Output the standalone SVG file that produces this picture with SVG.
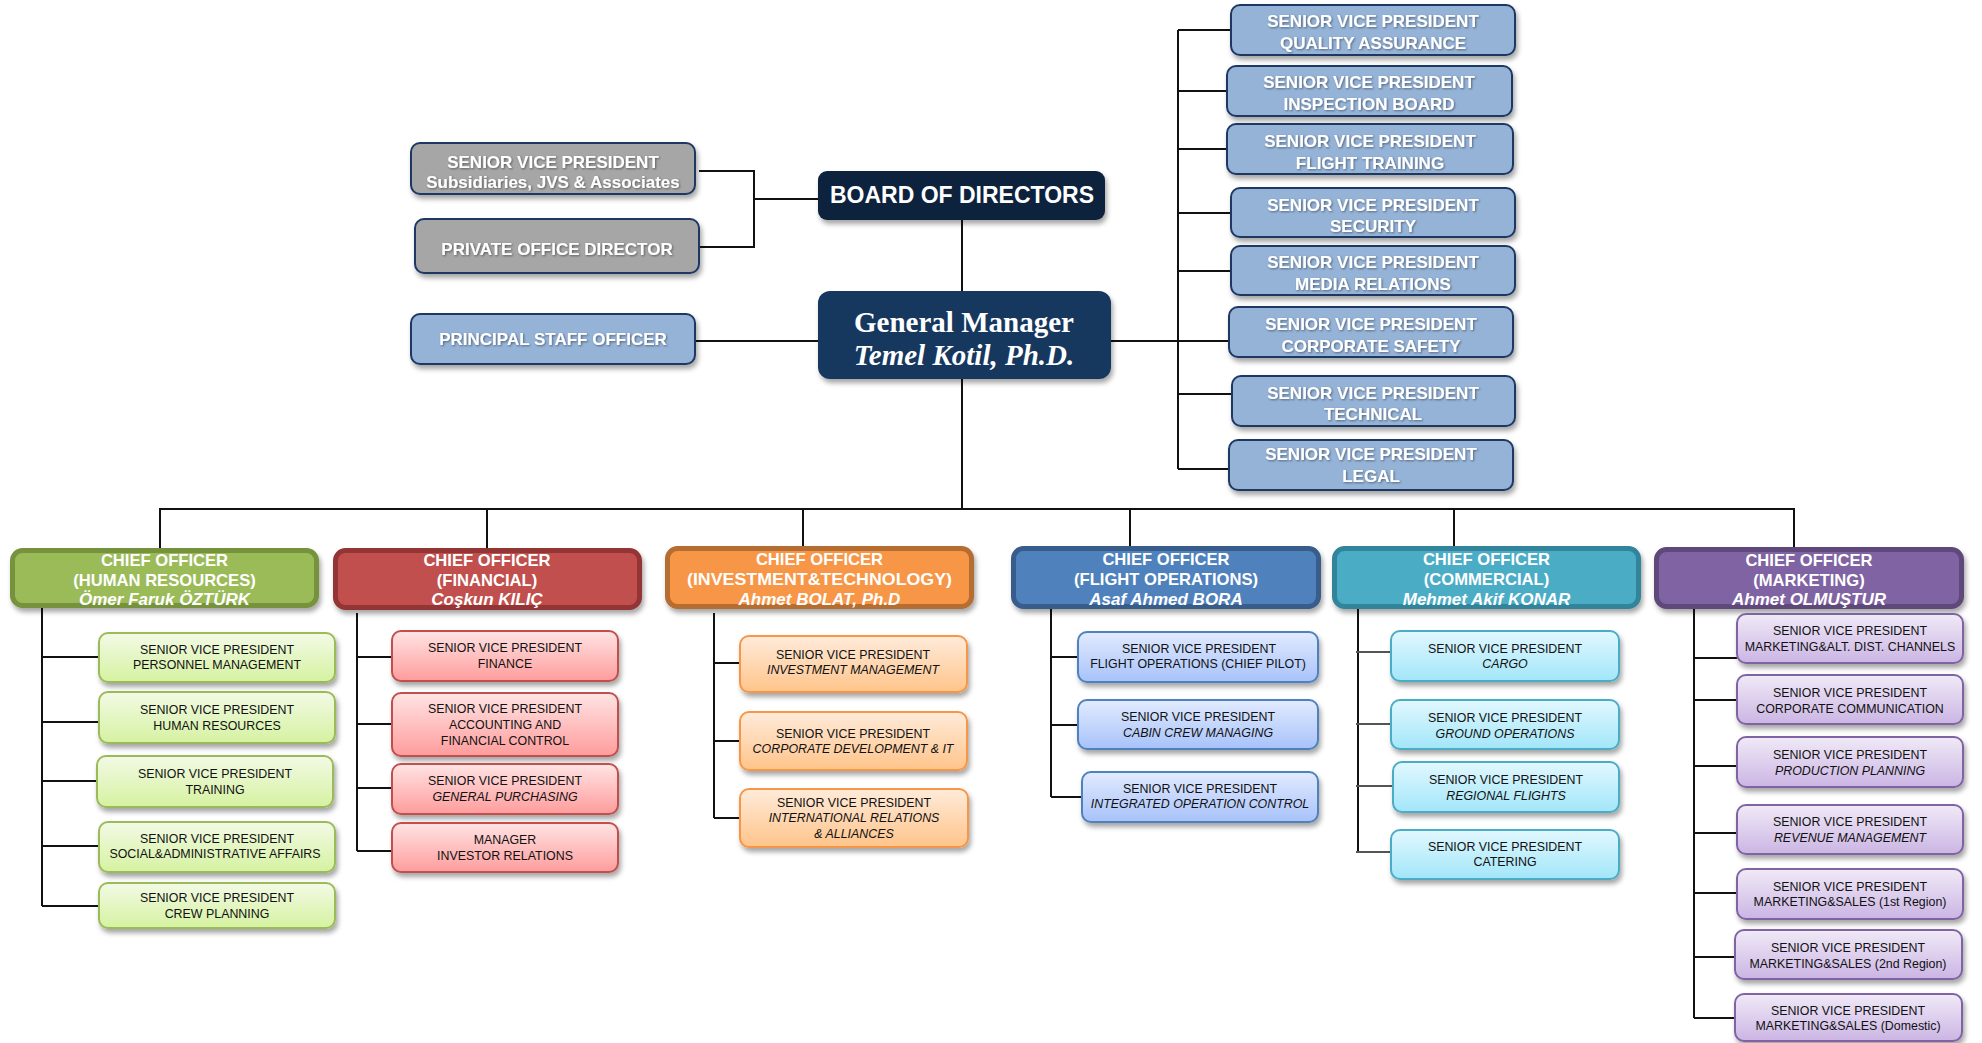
<svg xmlns="http://www.w3.org/2000/svg" width="1982" height="1043" viewBox="0 0 1982 1043">
<defs>
<filter id="sh" x="-10%" y="-20%" width="130%" height="170%"><feDropShadow dx="2" dy="4" stdDeviation="2.5" flood-color="#000" flood-opacity="0.35"/></filter>
<filter id="ts" x="-5%" y="-30%" width="110%" height="160%"><feDropShadow dx="1" dy="1" stdDeviation="0.8" flood-color="#000" flood-opacity="0.45"/></filter>
<linearGradient id="gG" x1="0" y1="0" x2="0" y2="1"><stop offset="0" stop-color="#F3FAE6"/><stop offset="1" stop-color="#D5F2A0"/></linearGradient>
<linearGradient id="gR" x1="0" y1="0" x2="0" y2="1"><stop offset="0" stop-color="#FFE4E4"/><stop offset="1" stop-color="#FF9C9C"/></linearGradient>
<linearGradient id="gO" x1="0" y1="0" x2="0" y2="1"><stop offset="0" stop-color="#FFEBDA"/><stop offset="1" stop-color="#FFC48A"/></linearGradient>
<linearGradient id="gB" x1="0" y1="0" x2="0" y2="1"><stop offset="0" stop-color="#E2EBFF"/><stop offset="1" stop-color="#A7C2FA"/></linearGradient>
<linearGradient id="gC" x1="0" y1="0" x2="0" y2="1"><stop offset="0" stop-color="#E2F8FF"/><stop offset="1" stop-color="#A2E6F9"/></linearGradient>
<linearGradient id="gP" x1="0" y1="0" x2="0" y2="1"><stop offset="0" stop-color="#F0EAF7"/><stop offset="1" stop-color="#CBB5E4"/></linearGradient>
</defs>
<style>
.c{stroke:#111;stroke-width:2;fill:none}
.cg{stroke:#555;stroke-width:2;fill:none}
.top{fill:#95B3D7;stroke:#1F3864;stroke-width:2;filter:url(#sh)}
.gray{fill:#A6A6A6;stroke:#1F3864;stroke-width:2;filter:url(#sh)}
.tw{font-family:"Liberation Sans",Arial,sans-serif;font-weight:bold;font-size:17px;fill:#fff;text-anchor:middle;filter:url(#ts)}
.ch{font-family:"Liberation Sans",Arial,sans-serif;font-weight:bold;font-size:16.6px;fill:#fff;text-anchor:middle}
.nm{font-style:italic;font-size:17px}
.s{font-family:"Liberation Sans",Arial,sans-serif;font-size:12.4px;fill:#111;text-anchor:middle}
.i{font-style:italic}
.sg{fill:url(#gG);stroke:#9BBB59;stroke-width:2;filter:url(#sh)}
.sr{fill:url(#gR);stroke:#C0504D;stroke-width:2;filter:url(#sh)}
.so{fill:url(#gO);stroke:#F79646;stroke-width:2;filter:url(#sh)}
.sb{fill:url(#gB);stroke:#4F81BD;stroke-width:2;filter:url(#sh)}
.sc{fill:url(#gC);stroke:#4BACC6;stroke-width:2;filter:url(#sh)}
.sp{fill:url(#gP);stroke:#8064A2;stroke-width:2;filter:url(#sh)}
</style>
<rect width="1982" height="1043" fill="#fff"/>

<g id="connectors">
<path class="c" d="M699 171H754V247H699M754 199H818"/>
<path class="c" d="M695 341H818"/>
<path class="c" d="M962 220V291M962 379V509"/>
<path class="c" d="M1111 341H1229M1178 30V469M1178 30H1231M1178 91H1227M1178 149H1227M1178 213H1231M1178 271H1231M1178 394H1232M1178 469H1229"/>
<path class="c" d="M160 548V509H1794V547M487 509V548M803 509V546M1130 509V546M1454 509V546"/>
<path class="c" d="M42 608V906M42 657H99M42 722H99M42 781H97M42 846H99M42 906H99"/>
<path class="c" d="M357 613V851M357 657H392M357 724H392M357 788H392M357 851H392"/>
<path class="c" d="M714 613V818M714 663H740M714 741H740M714 818H740"/>
<path class="c" d="M1051 608V797M1051 657H1078M1051 725H1078M1051 797H1082"/>
<path class="c" d="M1358 609V852"/>
<path class="cg" d="M1356 652H1391M1356 724H1391M1356 786H1393M1356 852H1391"/>
<path class="c" d="M1694 608V1018M1694 658H1737M1694 700H1737M1694 766H1737M1694 833H1737M1694 893H1737M1694 957H1735M1694 1018H1735"/>
</g>

<g id="n-subsidiaries"><rect class="gray" x="411" y="143" width="284" height="51" rx="9"/><text class="tw" x="553" y="168">SENIOR VICE PRESIDENT</text><text class="tw" x="553" y="188">Subsidiaries, JVS &amp; Associates</text></g>
<g id="n-private"><rect class="gray" x="415" y="219" width="284" height="54" rx="9"/><text class="tw" x="557" y="255">PRIVATE OFFICE DIRECTOR</text></g>
<g id="n-principal"><rect class="top" x="411" y="314" width="284" height="50" rx="9"/><text class="tw" x="553" y="345">PRINCIPAL STAFF OFFICER</text></g>
<g id="n-bod"><rect x="818" y="171" width="287" height="49" rx="9" fill="#10243E" filter="url(#sh)"/><text x="962" y="203" font-family="Liberation Sans,Arial,sans-serif" font-weight="bold" font-size="23" fill="#fff" text-anchor="middle">BOARD OF DIRECTORS</text></g>
<g id="n-gm"><rect x="818" y="291" width="293" height="88" rx="12" fill="#17375E" filter="url(#sh)"/><text x="964" y="332" font-family="Liberation Serif,Times New Roman,serif" font-weight="bold" font-size="29" fill="#fff" text-anchor="middle">General Manager</text><text x="964" y="365" font-family="Liberation Serif,Times New Roman,serif" font-weight="bold" font-style="italic" font-size="29" fill="#fff" text-anchor="middle">Temel Kotil, Ph.D.</text></g>

<g id="n-qa"><rect class="top" x="1231" y="5" width="284" height="50" rx="9"/><text class="tw" x="1373" y="27">SENIOR VICE PRESIDENT</text><text class="tw" x="1373" y="49">QUALITY ASSURANCE</text></g>
<g id="n-inspection"><rect class="top" x="1227" y="66" width="285" height="50" rx="9"/><text class="tw" x="1369" y="88">SENIOR VICE PRESIDENT</text><text class="tw" x="1369" y="110">INSPECTION BOARD</text></g>
<g id="n-flighttraining"><rect class="top" x="1227" y="124" width="286" height="50" rx="9"/><text class="tw" x="1370" y="147">SENIOR VICE PRESIDENT</text><text class="tw" x="1370" y="169">FLIGHT TRAINING</text></g>
<g id="n-security"><rect class="top" x="1231" y="188" width="284" height="49" rx="9"/><text class="tw" x="1373" y="211">SENIOR VICE PRESIDENT</text><text class="tw" x="1373" y="232">SECURITY</text></g>
<g id="n-media"><rect class="top" x="1231" y="246" width="284" height="49" rx="9"/><text class="tw" x="1373" y="268">SENIOR VICE PRESIDENT</text><text class="tw" x="1373" y="290">MEDIA RELATIONS</text></g>
<g id="n-safety"><rect class="top" x="1229" y="307" width="284" height="50" rx="9"/><text class="tw" x="1371" y="330">SENIOR VICE PRESIDENT</text><text class="tw" x="1371" y="352">CORPORATE SAFETY</text></g>
<g id="n-technical"><rect class="top" x="1232" y="376" width="283" height="50" rx="9"/><text class="tw" x="1373" y="399">SENIOR VICE PRESIDENT</text><text class="tw" x="1373" y="420">TECHNICAL</text></g>
<g id="n-legal"><rect class="top" x="1229" y="440" width="284" height="50" rx="9"/><text class="tw" x="1371" y="460">SENIOR VICE PRESIDENT</text><text class="tw" x="1371" y="482">LEGAL</text></g>

<g id="n-co-hr"><rect x="12.5" y="550.5" width="304" height="55" rx="10" fill="#9BBB59" stroke="#76923C" stroke-width="5" filter="url(#sh)"/><text class="ch" x="164.5" y="566">CHIEF OFFICER</text><text class="ch" x="164.5" y="586">(HUMAN RESOURCES)</text><text class="ch nm" x="164.5" y="605">Ömer Faruk ÖZTÜRK</text></g>
<g id="n-co-fin"><rect x="335.5" y="550.5" width="304" height="57" rx="10" fill="#C0504D" stroke="#943634" stroke-width="5" filter="url(#sh)"/><text class="ch" x="487" y="566">CHIEF OFFICER</text><text class="ch" x="487" y="586">(FINANCIAL)</text><text class="ch nm" x="487" y="605">Coşkun KILIÇ</text></g>
<g id="n-co-inv"><rect x="667.5" y="548.5" width="304" height="58" rx="10" fill="#F79646" stroke="#B66D31" stroke-width="5" filter="url(#sh)"/><text class="ch" x="819.5" y="565">CHIEF OFFICER</text><text class="ch" x="819.5" y="585" textLength="265" lengthAdjust="spacingAndGlyphs">(INVESTMENT&amp;TECHNOLOGY)</text><text class="ch nm" x="819.5" y="605">Ahmet BOLAT, Ph.D</text></g>
<g id="n-co-fo"><rect x="1013.5" y="548.5" width="305" height="58" rx="10" fill="#4F81BD" stroke="#385D8A" stroke-width="5" filter="url(#sh)"/><text class="ch" x="1166" y="565">CHIEF OFFICER</text><text class="ch" x="1166" y="585">(FLIGHT OPERATIONS)</text><text class="ch nm" x="1166" y="605">Asaf Ahmed BORA</text></g>
<g id="n-co-com"><rect x="1334.5" y="548.5" width="304" height="58" rx="10" fill="#4BACC6" stroke="#31849B" stroke-width="5" filter="url(#sh)"/><text class="ch" x="1486.5" y="565">CHIEF OFFICER</text><text class="ch" x="1486.5" y="585">(COMMERCIAL)</text><text class="ch nm" x="1486.5" y="605">Mehmet Akif KONAR</text></g>
<g id="n-co-mkt"><rect x="1656.5" y="549.5" width="305" height="57" rx="10" fill="#8064A2" stroke="#5F497A" stroke-width="5" filter="url(#sh)"/><text class="ch" x="1809" y="566">CHIEF OFFICER</text><text class="ch" x="1809" y="586">(MARKETING)</text><text class="ch nm" x="1809" y="605">Ahmet OLMUŞTUR</text></g>

<g id="n-hr-personnel"><rect class="sg" x="99" y="633" width="236" height="49" rx="9"/><text class="s" x="217" y="654">SENIOR VICE PRESIDENT</text><text class="s" x="217" y="669">PERSONNEL  MANAGEMENT</text></g>
<g id="n-hr-hr"><rect class="sg" x="99" y="692" width="236" height="51" rx="9"/><text class="s" x="217" y="714">SENIOR VICE PRESIDENT</text><text class="s" x="217" y="730">HUMAN RESOURCES</text></g>
<g id="n-hr-training"><rect class="sg" x="97" y="756" width="236" height="51" rx="9"/><text class="s" x="215" y="778">SENIOR VICE PRESIDENT</text><text class="s" x="215" y="794">TRAINING</text></g>
<g id="n-hr-social"><rect class="sg" x="99" y="822" width="236" height="50" rx="9"/><text class="s" x="217" y="843">SENIOR VICE PRESIDENT</text><text class="s" x="215" y="858">SOCIAL&amp;ADMINISTRATIVE AFFAIRS</text></g>
<g id="n-hr-crew"><rect class="sg" x="99" y="883" width="236" height="45" rx="9"/><text class="s" x="217" y="902">SENIOR VICE PRESIDENT</text><text class="s" x="217" y="918">CREW PLANNING</text></g>

<g id="n-fin-finance"><rect class="sr" x="392" y="631" width="226" height="50" rx="9"/><text class="s" x="505" y="652">SENIOR VICE PRESIDENT</text><text class="s" x="505" y="668">FINANCE</text></g>
<g id="n-fin-accounting"><rect class="sr" x="392" y="693" width="226" height="63" rx="9"/><text class="s" x="505" y="713">SENIOR VICE PRESIDENT</text><text class="s" x="505" y="729">ACCOUNTING  AND</text><text class="s" x="505" y="745">FINANCIAL CONTROL</text></g>
<g id="n-fin-purchasing"><rect class="sr" x="392" y="764" width="226" height="50" rx="9"/><text class="s" x="505" y="785">SENIOR VICE PRESIDENT</text><text class="s i" x="505" y="801">GENERAL PURCHASING</text></g>
<g id="n-fin-investor"><rect class="sr" x="392" y="823" width="226" height="49" rx="9"/><text class="s" x="505" y="844">MANAGER</text><text class="s" x="505" y="860">INVESTOR RELATIONS</text></g>

<g id="n-inv-mgmt"><rect class="so" x="740" y="636" width="227" height="56" rx="9"/><text class="s" x="853" y="659">SENIOR VICE PRESIDENT</text><text class="s i" x="853" y="674">INVESTMENT MANAGEMENT</text></g>
<g id="n-inv-corpdev"><rect class="so" x="740" y="712" width="227" height="58" rx="9"/><text class="s" x="853" y="738">SENIOR VICE PRESIDENT</text><text class="s i" x="853" y="753">CORPORATE DEVELOPMENT &amp; IT</text></g>
<g id="n-inv-intl"><rect class="so" x="740" y="789" width="228" height="58" rx="9"/><text class="s" x="854" y="807">SENIOR VICE PRESIDENT</text><text class="s i" x="854" y="822">INTERNATIONAL RELATIONS</text><text class="s i" x="854" y="838">&amp; ALLIANCES</text></g>

<g id="n-fo-pilot"><rect class="sb" x="1078" y="632" width="240" height="50" rx="9"/><text class="s" x="1199" y="653">SENIOR VICE PRESIDENT</text><text class="s" x="1198" y="668">FLIGHT OPERATIONS (CHIEF PILOT)</text></g>
<g id="n-fo-cabin"><rect class="sb" x="1078" y="700" width="240" height="49" rx="9"/><text class="s" x="1198" y="721">SENIOR VICE PRESIDENT</text><text class="s i" x="1198" y="737">CABIN CREW MANAGING</text></g>
<g id="n-fo-ioc"><rect class="sb" x="1082" y="772" width="236" height="50" rx="9"/><text class="s" x="1200" y="793">SENIOR VICE PRESIDENT</text><text class="s i" x="1200" y="808">INTEGRATED OPERATION CONTROL</text></g>

<g id="n-com-cargo"><rect class="sc" x="1391" y="631" width="228" height="50" rx="9"/><text class="s" x="1505" y="653">SENIOR VICE PRESIDENT</text><text class="s i" x="1505" y="668">CARGO</text></g>
<g id="n-com-ground"><rect class="sc" x="1391" y="700" width="228" height="49" rx="9"/><text class="s" x="1505" y="722">SENIOR VICE PRESIDENT</text><text class="s i" x="1505" y="738">GROUND  OPERATIONS</text></g>
<g id="n-com-regional"><rect class="sc" x="1393" y="762" width="226" height="50" rx="9"/><text class="s" x="1506" y="784">SENIOR VICE PRESIDENT</text><text class="s i" x="1506" y="800">REGIONAL FLIGHTS</text></g>
<g id="n-com-catering"><rect class="sc" x="1391" y="830" width="228" height="49" rx="9"/><text class="s" x="1505" y="851">SENIOR VICE PRESIDENT</text><text class="s" x="1505" y="866">CATERING</text></g>

<g id="n-mkt-alt"><rect class="sp" x="1737" y="614" width="226" height="49" rx="9"/><text class="s" x="1850" y="635">SENIOR VICE PRESIDENT</text><text class="s" x="1850" y="651">MARKETING&amp;ALT. DIST. CHANNELS</text></g>
<g id="n-mkt-corpcomm"><rect class="sp" x="1737" y="675" width="226" height="49" rx="9"/><text class="s" x="1850" y="697">SENIOR VICE PRESIDENT</text><text class="s" x="1850" y="713">CORPORATE  COMMUNICATION</text></g>
<g id="n-mkt-production"><rect class="sp" x="1737" y="737" width="226" height="50" rx="9"/><text class="s" x="1850" y="759">SENIOR VICE PRESIDENT</text><text class="s i" x="1850" y="775">PRODUCTION  PLANNING</text></g>
<g id="n-mkt-revenue"><rect class="sp" x="1737" y="805" width="226" height="49" rx="9"/><text class="s" x="1850" y="826">SENIOR VICE PRESIDENT</text><text class="s i" x="1850" y="842">REVENUE MANAGEMENT</text></g>
<g id="n-mkt-1st"><rect class="sp" x="1737" y="869" width="226" height="50" rx="9"/><text class="s" x="1850" y="891">SENIOR VICE PRESIDENT</text><text class="s" x="1850" y="906">MARKETING&amp;SALES (1st Region)</text></g>
<g id="n-mkt-2nd"><rect class="sp" x="1735" y="930" width="227" height="49" rx="9"/><text class="s" x="1848" y="952">SENIOR VICE PRESIDENT</text><text class="s" x="1848" y="968">MARKETING&amp;SALES (2nd Region)</text></g>
<g id="n-mkt-domestic"><rect class="sp" x="1735" y="994" width="227" height="47" rx="9"/><text class="s" x="1848" y="1015">SENIOR VICE PRESIDENT</text><text class="s" x="1848" y="1030">MARKETING&amp;SALES (Domestic)</text></g>
</svg>
